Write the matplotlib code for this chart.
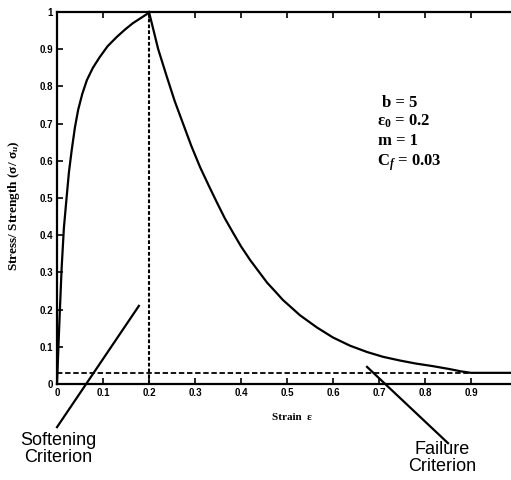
import numpy as np
import matplotlib.pyplot as plt

plt.rcParams['mathtext.fontset'] = 'custom'
plt.rcParams['mathtext.rm'] = 'Liberation Serif:bold'
plt.rcParams['mathtext.it'] = 'Liberation Serif:italic:bold'
plt.rcParams['mathtext.bf'] = 'Liberation Serif:bold'

# hardening branch (up to peak)
rise_strain = [0, 0.005, 0.01, 0.015, 0.021, 0.026, 0.032, 0.039, 0.046, 0.055, 0.065,
               0.078, 0.093, 0.11, 0.13, 0.148, 0.165, 0.18, 0.195, 0.2]
rise_stress = [0, 0.16, 0.31, 0.42, 0.503, 0.57, 0.629, 0.69, 0.737, 0.78, 0.817,
               0.85, 0.879, 0.908, 0.933, 0.953, 0.970, 0.982, 0.994, 1.0]

# softening branch (after peak)
fall_strain = [0.2, 0.22, 0.239, 0.256, 0.274, 0.292, 0.311, 0.33, 0.348, 0.365, 0.383,
               0.40, 0.42, 0.44, 0.457, 0.475, 0.491, 0.51, 0.528, 0.565, 0.60, 0.637,
               0.674, 0.709, 0.746, 0.78, 0.817, 0.854, 0.878, 0.9, 1.0]
fall_stress = [1.0, 0.9, 0.825, 0.76, 0.70, 0.64, 0.583, 0.533, 0.487, 0.445, 0.406,
               0.37, 0.333, 0.30, 0.272, 0.248, 0.226, 0.205, 0.185, 0.152, 0.125, 0.103,
               0.086, 0.073, 0.063, 0.055, 0.048, 0.040, 0.034, 0.03, 0.03]

eps0 = 0.2
cf = 0.03
params = ['b = 5', 'ε$_{0}$ = 0.2', 'm = 1', 'C$_{f}$ = 0.03']

xticks = np.arange(0, 1.0, 0.1)
yticks = np.arange(0, 1.01, 0.1)
xlabels = ['0'] + ['%.1f' % v for v in xticks[1:]]
ylabels = ['0'] + ['%.1f' % v for v in yticks[1:-1]] + ['1']

fig = plt.figure(figsize=(5.11, 4.80), dpi=100)
ax = fig.add_axes([57/511, 96/480, 460/511, 372/480])

ax.plot(rise_strain, rise_stress, color='black', lw=1.6, clip_on=False)
ax.plot(fall_strain, fall_stress, color='black', lw=1.6, clip_on=False)
ax.plot([0, 0.9], [cf, cf], color='black', lw=1.3, dashes=(3, 1.5))
ax.plot([eps0, eps0], [0, 1], color='black', lw=1.5, dashes=(1.8, 1.0))

ax.set_xlim(0, 1)
ax.set_ylim(0, 1)
for s in ['left', 'bottom', 'top']:
    ax.spines[s].set_linewidth(1.6)
ax.spines['right'].set_visible(False)

ax.set_xticks(xticks)
ax.set_xticklabels(xlabels)
ax.set_yticks(yticks)
ax.set_yticklabels(ylabels)
ax.tick_params(direction='in', length=4, width=1.2, top=True, pad=3)
for lab in ax.get_xticklabels() + ax.get_yticklabels():
    lab.set_fontfamily('Liberation Sans')
    lab.set_fontweight('bold')
    lab.set_fontsize(7)

ax.set_xlabel('Strain  ε', family='Liberation Serif', weight='bold', fontsize=8)
ax.xaxis.set_label_coords(0.511, -0.078)
ax.set_ylabel('Stress/ Strength (σ/ σ$_{u}$)', family='Liberation Serif', weight='bold', fontsize=9.5)
ax.yaxis.set_label_coords(-0.076, 0.48)

ys = [0.745, 0.694, 0.642, 0.586]
xs = [0.707, 0.696, 0.698, 0.696]
for t, x, y in zip(params, xs, ys):
    ax.text(x, y, t, family='Liberation Serif', weight='bold', fontsize=12, va='baseline')

# annotation leaders
ax.plot([0.0, 0.178], [-0.116, 0.21], color='black', lw=1.6, clip_on=False)
ax.plot([0.674, 0.85], [0.046, -0.159], color='black', lw=1.6, clip_on=False)
ax.text(0.002, -0.175, 'Softening\nCriterion', family='Liberation Sans', fontsize=13,
        ha='center', va='center', linespacing=0.95)
ax.text(0.837, -0.199, 'Failure\nCriterion', family='Liberation Sans', fontsize=13,
        ha='center', va='center', linespacing=0.95)

fig.savefig('out.png', dpi=100)
